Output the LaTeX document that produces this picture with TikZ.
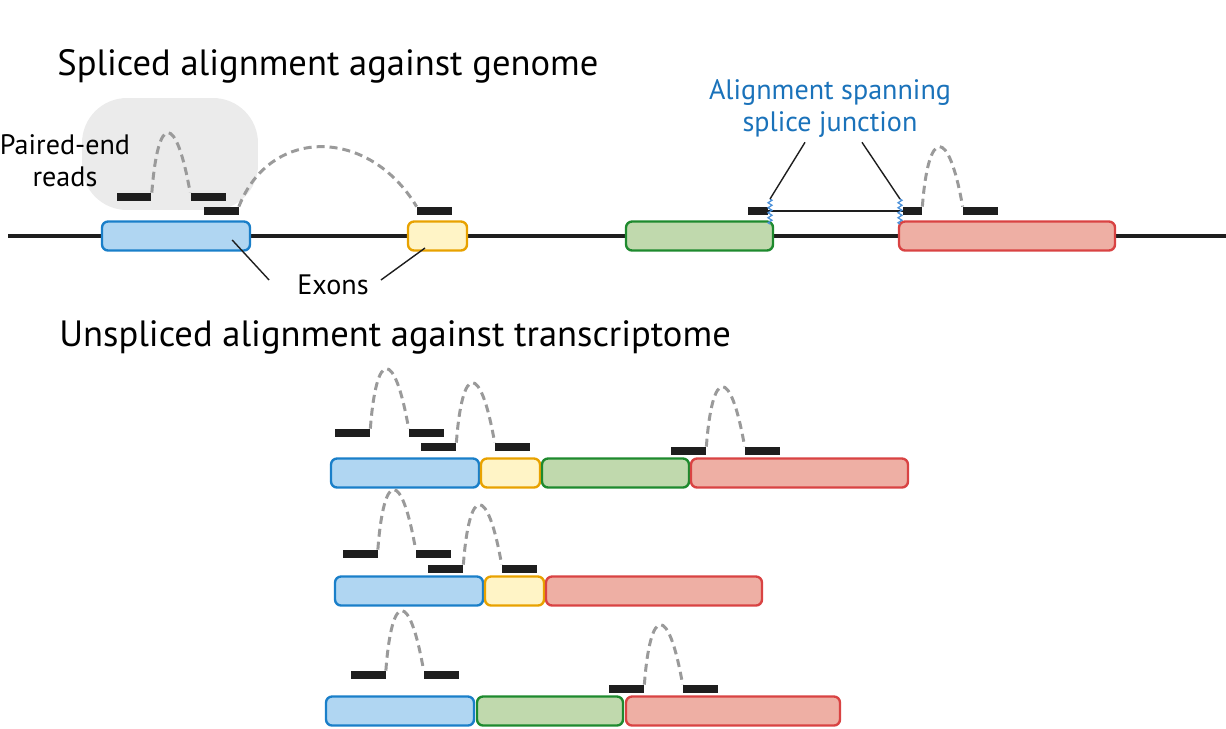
\documentclass[tikz,border=0pt]{standalone}
\usepackage{fontspec}
\setmainfont{PT Sans}
\usepackage{xcolor}
\usepackage{tikz}
\usetikzlibrary{positioning, decorations.pathmorphing}
\definecolor{exblue}{HTML}{1A7FC9}
\definecolor{exbluefill}{HTML}{B0D6F2}
\definecolor{exyel}{HTML}{E8A200}
\definecolor{exyelfill}{HTML}{FFF4C6}
\definecolor{exgreen}{HTML}{1E8A2E}
\definecolor{exgreenfill}{HTML}{C0D9AD}
\definecolor{exred}{HTML}{D94343}
\definecolor{exredfill}{HTML}{EEAFA4}
\definecolor{readblack}{HTML}{1E1E1E}
\definecolor{mategray}{HTML}{9A9A9A}
\definecolor{pebg}{HTML}{EBEBEB}
\definecolor{spliceblue}{HTML}{1A72BA}
\definecolor{jagblue}{HTML}{4A90D9}
\tikzset{
  exon/.style={rectangle, rounded corners=0.12cm, line width=1.35pt, minimum height=0.58cm, inner sep=0pt},
  blueexon/.style={exon, draw=exblue, fill=exbluefill},
  yellowexon/.style={exon, draw=exyel, fill=exyelfill},
  greenexon/.style={exon, draw=exgreen, fill=exgreenfill},
  redexon/.style={exon, draw=exred, fill=exredfill},
  read/.style={rectangle, fill=readblack, minimum width=0.7cm, minimum height=0.16cm, inner sep=0pt},
  mate/.style={draw=mategray, line width=1.7pt, dash pattern=on 0.16cm off 0.1cm},
  genome/.style={draw=readblack, line width=2.2pt},
  ptr/.style={draw=readblack, line width=0.8pt},
  jag/.style={draw=jagblue, line width=0.7pt, decorate, decoration={zigzag, segment length=0.1cm, amplitude=0.04cm}},
  title/.style={anchor=west, font=\fontsize{20.8}{24}\selectfont, inner sep=0pt},
  lbl/.style={font=\fontsize{16}{18.2}\selectfont, align=center, inner sep=0pt},
}
\newcommand\matepair[2]{\draw[mate] (#1.north east) .. controls +(6,-80) and +(-14,-80) .. (#2.north west);}

\begin{document}
\begin{tikzpicture}[x=0.02cm, y=-0.02cm]
\useasboundingbox (0,0) rectangle (1226,728);
% ---- genome ----
\node[title] (tGenome) at (57,66) {Spliced alignment against genome};
\node[fill=pebg, rounded corners=0.9cm, minimum width=3.52cm, minimum height=2.24cm] (peBox) at (170,154) {};
\node[lbl] (peLbl) at (65,161) {Paired-end\\reads};
\coordinate (gL) at (8,236);
\coordinate (gR) at (1226,236);
\draw[genome] (gL) -- (gR);
\node[blueexon, minimum width=2.96cm] (gBlue) at (176,236) {};
\node[yellowexon, minimum width=1.18cm] (gYel) at (437.5,236) {};
\node[greenexon, minimum width=2.94cm] (gGreen) at (699.5,236) {};
\node[redexon, minimum width=4.32cm] (gRed) at (1007,236) {};
% reads on the genome
\node[read] (pA) at (134,197) {};
\node[read] (pB) at (208,197) {};
\node[read] (pC) at (221,211) {};
\node[read] (pD) at (434.5,211) {};
\node[read, minimum width=0.4cm] (sA) at (758,211) {};
\node[read, minimum width=0.38cm] (sB) at (912.5,211) {};
\node[read] (sC) at (980.5,211) {};
\matepair{pA}{pB}
\draw[mate] (pC.north east) .. controls +(31,-80) and +(-48,-80) .. (pD.north west);
\matepair{sB}{sC}
% junction
\coordinate (jAt) at (770,199);
\coordinate (jAb) at (770,224);
\coordinate (jBt) at (900,199);
\coordinate (jBb) at (900,224);
\draw[ptr] (sA.east) -- (sB.west);
\draw[jag] (jAt) -- (jAb);
\draw[jag] (jBt) -- (jBb);
\node[lbl, text=spliceblue] (junc) at (830,108) {Alignment spanning\\splice junction};
\draw[ptr] ([xshift=-0.5cm, yshift=-0.1cm]junc.south) -- (jAt);
\draw[ptr] ([xshift=0.64cm, yshift=-0.1cm]junc.south) -- (jBt);
% exon labels
\node[lbl] (exLbl) at (333,285) {Exons};
\draw[ptr] ([xshift=-0.56cm, yshift=0.1cm]exLbl.west) -- ([xshift=-0.38cm, yshift=-0.08cm]gBlue.east);
\draw[ptr] ([xshift=0.24cm, yshift=0.1cm]exLbl.east) -- ([xshift=-0.25cm, yshift=-0.24cm]gYel.center);
% ---- transcriptome ----
\node[title] (tTrans) at (59,337) {Unspliced alignment against transcriptome};
% isoform 1
\node[blueexon, minimum width=2.96cm] (aBlue) at (405,473) {};
\node[yellowexon, minimum width=1.18cm] (aYel) at (510.5,473) {};
\node[greenexon, minimum width=2.94cm] (aGreen) at (615.5,473) {};
\node[redexon, minimum width=4.34cm] (aRed) at (799.5,473) {};
\node[read] (aR1) at (352.5,433) {};
\node[read] (aR2) at (426.5,433) {};
\node[read] (aR3) at (438.5,447) {};
\node[read] (aR4) at (512.5,447) {};
\node[read] (aR5) at (688.5,451) {};
\node[read] (aR6) at (762.5,451) {};
\matepair{aR1}{aR2}
\matepair{aR3}{aR4}
\matepair{aR5}{aR6}
% isoform 2
\node[blueexon, minimum width=2.96cm] (bBlue) at (409,591) {};
\node[yellowexon, minimum width=1.18cm] (bYel) at (514.5,591) {};
\node[redexon, minimum width=4.32cm] (bRed) at (654,591) {};
\node[read] (bR1) at (360,554) {};
\node[read] (bR2) at (433.5,554) {};
\node[read] (bR3) at (445.5,569) {};
\node[read] (bR4) at (519.5,569) {};
\matepair{bR1}{bR2}
\matepair{bR3}{bR4}
% isoform 3
\node[blueexon, minimum width=2.96cm] (cBlue) at (400,711) {};
\node[greenexon, minimum width=2.92cm] (cGreen) at (550,711) {};
\node[redexon, minimum width=4.28cm] (cRed) at (733,711) {};
\node[read] (cR1) at (368,675) {};
\node[read] (cR2) at (441.5,675) {};
\node[read] (cR3) at (626.5,689) {};
\node[read] (cR4) at (700.5,689) {};
\matepair{cR1}{cR2}
\matepair{cR3}{cR4}
\end{tikzpicture}
\end{document}
